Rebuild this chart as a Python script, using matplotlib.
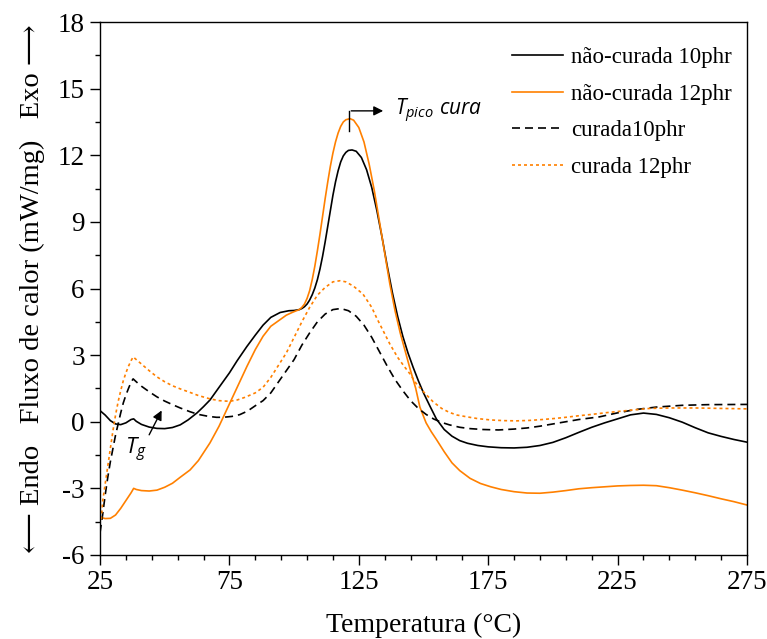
import numpy as np
import matplotlib.pyplot as plt
from matplotlib.ticker import FixedLocator, MultipleLocator

plt.rcParams['font.family'] = ['Liberation Serif', 'DejaVu Serif']
plt.rcParams['mathtext.fontset'] = 'custom'
plt.rcParams['mathtext.it'] = 'Open Sans:italic'
plt.rcParams['mathtext.rm'] = 'Open Sans'
plt.rcParams['axes.unicode_minus'] = False

ORANGE = '#ff8000'

# não-curada 10phr
x_nc10 = [25, 27, 29, 31, 33, 35, 37, 38, 39, 41, 44, 47, 50, 53, 56, 59, 62.5, 65, 67.5, 71,
          75, 78, 81.7, 85, 88, 91, 94.6, 98, 100, 102, 103, 104, 105, 106, 107, 108, 109, 110,
          111, 112, 113, 114, 115, 116, 117, 118, 119, 120, 121, 122.4, 124, 126, 128, 130, 132,
          134, 136, 138, 140, 142, 144, 146, 148, 150, 152.5, 155, 158, 161, 164, 167, 171, 175,
          180, 185, 190, 195, 200, 205, 210, 215, 220, 225, 230, 235, 240, 245, 250, 255, 260,
          265, 270, 275]
y_nc10 = [0.50, 0.30, 0.05, -0.10, -0.13, -0.05, 0.10, 0.13, 0.02, -0.12, -0.24, -0.30, -0.31,
          -0.26, -0.14, 0.08, 0.40, 0.68, 0.98, 1.55, 2.20, 2.75, 3.38, 3.90, 4.35, 4.70, 4.92,
          5.00, 5.01, 5.05, 5.10, 5.18, 5.30, 5.48, 5.72, 6.02, 6.40, 6.88, 7.45, 8.10, 8.80,
          9.50, 10.20, 10.80, 11.30, 11.70, 11.97, 12.13, 12.22, 12.24, 12.18, 11.90, 11.35,
          10.55, 9.50, 8.30, 7.00, 5.80, 4.75, 3.85, 3.10, 2.45, 1.85, 1.30, 0.70, 0.12, -0.35,
          -0.65, -0.85, -0.97, -1.07, -1.13, -1.17, -1.18, -1.15, -1.07, -0.93, -0.72, -0.48,
          -0.25, -0.05, 0.13, 0.31, 0.39, 0.33, 0.18, -0.02, -0.27, -0.50, -0.66, -0.80, -0.92]

# não-curada 12phr
x_nc12 = [25, 27, 29, 31, 33, 35, 37, 38, 39, 41, 44, 47, 50, 53, 56, 59.8, 63, 67.5, 71, 75.2,
          78, 81.8, 85, 88, 91, 94.6, 97, 99.6, 102, 103, 104, 105, 106, 107, 108, 109, 110, 111,
          112, 113, 114, 115, 116, 117, 118, 119, 120, 121.6, 123, 125, 127, 129, 131, 133, 135,
          137, 139, 141, 143, 145, 147, 148.6, 151, 153, 155, 158, 161, 164, 168, 172, 176, 180,
          185, 190, 195, 200, 205, 210, 215, 220, 225, 230, 235, 240, 245, 250, 255, 260, 265,
          270, 275]
y_nc12 = [-4.30, -4.36, -4.35, -4.20, -3.90, -3.55, -3.20, -3.00, -3.05, -3.10, -3.12, -3.08,
          -2.95, -2.77, -2.50, -2.17, -1.75, -0.95, -0.20, 0.85, 1.55, 2.50, 3.25, 3.85, 4.30,
          4.60, 4.80, 4.94, 5.05, 5.15, 5.30, 5.55, 5.90, 6.40, 7.00, 7.70, 8.45, 9.25, 10.05,
          10.80, 11.50, 12.10, 12.60, 13.00, 13.30, 13.50, 13.60, 13.65, 13.58, 13.25, 12.60,
          11.60, 10.40, 9.00, 7.60, 6.20, 5.00, 4.00, 3.15, 2.30, 1.50, 0.66, -0.05, -0.45,
          -0.80, -1.35, -1.85, -2.20, -2.55, -2.78, -2.93, -3.05, -3.15, -3.21, -3.22, -3.17,
          -3.10, -3.02, -2.97, -2.93, -2.89, -2.87, -2.86, -2.88, -2.97, -3.08, -3.20, -3.33,
          -3.47, -3.60, -3.75]

# curada 10phr
x_c10 = [25, 26, 27, 28, 29, 30, 31, 32, 33, 34, 35, 36, 37, 37.8, 39, 41, 44, 47, 50, 53, 56,
         59.8, 63, 67, 70, 72.6, 76, 79, 82, 85, 88, 91, 94, 97, 100, 103, 106, 109, 112, 115,
         118, 121, 124, 127, 130, 133, 136, 139, 142, 145, 148, 151, 154, 157, 160, 164, 168,
         173, 179, 185, 190, 195, 200, 205, 210, 218, 225, 232, 240, 250, 260, 275]
y_c10 = [-5.00, -4.20, -3.30, -2.50, -1.80, -1.20, -0.60, -0.10, 0.40, 0.85, 1.20, 1.50, 1.78,
         1.93, 1.80, 1.60, 1.35, 1.12, 0.93, 0.77, 0.62, 0.45, 0.33, 0.24, 0.20, 0.20, 0.24,
         0.32, 0.48, 0.72, 0.95, 1.30, 1.80, 2.30, 2.80, 3.45, 4.00, 4.50, 4.85, 5.05, 5.10,
         5.00, 4.75, 4.35, 3.80, 3.15, 2.50, 1.90, 1.40, 0.95, 0.60, 0.33, 0.12, -0.03, -0.14,
         -0.25, -0.31, -0.35, -0.37, -0.33, -0.28, -0.20, -0.10, 0.00, 0.10, 0.22, 0.40, 0.55,
         0.66, 0.74, 0.77, 0.78]

# curada 12phr
x_c12 = [25.5, 26, 27, 28, 29, 30, 31, 32, 33, 34, 35, 36, 37, 37.8, 39, 41, 44, 47, 50, 53, 56,
         59.8, 63, 67.5, 71, 75, 78, 81, 85, 88, 91, 94, 97, 100, 103, 106, 109, 112, 115, 117.7,
         120, 123, 126.6, 130, 132, 134.4, 137, 140, 142.5, 144.8, 147, 150, 153.7, 157, 160,
         163, 166.8, 171, 176, 181, 186, 191, 196, 201, 205, 210, 215, 220, 225, 230, 237.5,
         245, 255, 265, 275]
y_c12 = [-4.40, -3.60, -2.80, -2.00, -1.20, -0.40, 0.30, 0.90, 1.40, 1.85, 2.20, 2.50, 2.75,
         2.92, 2.80, 2.60, 2.30, 2.02, 1.80, 1.62, 1.48, 1.32, 1.18, 1.03, 0.95, 0.92, 0.98,
         1.10, 1.30, 1.55, 2.00, 2.55, 3.10, 3.80, 4.50, 5.15, 5.70, 6.05, 6.30, 6.35, 6.30,
         6.10, 5.75, 5.15, 4.65, 4.10, 3.50, 2.90, 2.50, 2.15, 1.75, 1.35, 0.90, 0.60, 0.42,
         0.30, 0.22, 0.14, 0.08, 0.05, 0.04, 0.06, 0.10, 0.15, 0.20, 0.27, 0.33, 0.40, 0.46,
         0.52, 0.60, 0.62, 0.62, 0.60, 0.58]

x_ticks = [25, 75, 125, 175, 225, 275]
y_ticks = [-6, -3, 0, 3, 6, 9, 12, 15, 18]

fig = plt.figure(figsize=(7.67, 6.39), dpi=100)
ax = fig.add_axes([0.1304, 0.1315, 0.8435, 0.834])

lw = 1.2
ax.plot(x_nc10, y_nc10, color='black', lw=lw, label='não-curada 10phr')
ax.plot(x_nc12, y_nc12, color=ORANGE, lw=lw, label='não-curada 12phr')
ax.plot(x_c10, y_c10, color='black', lw=lw, dashes=(4.8, 3.0), label='curada10phr')
ax.plot(x_c12, y_c12, color=ORANGE, lw=lw, dashes=(1.8, 1.8), label='curada 12phr')

ax.set_xlim(25, 275)
ax.set_ylim(-6, 18)
ax.set_xticks(x_ticks)
ax.set_yticks(y_ticks)
ax.xaxis.set_minor_locator(FixedLocator(np.arange(25, 276, 10)))
ax.yaxis.set_minor_locator(MultipleLocator(1.5))
ax.tick_params(which='major', direction='out', length=7, width=1, labelsize=19.5, pad=4)
ax.tick_params(which='minor', direction='out', length=3.5, width=1)
ax.tick_params(top=False, right=False, which='both')
for s in ax.spines.values():
    s.set_linewidth(1)

ax.set_xlabel('Temperatura (°C)', fontsize=20, labelpad=13)
ax.set_ylabel('\u27f5 Endo   Fluxo de calor (mW/mg)   Exo \u27f6', fontsize=20.5, labelpad=9)

leg = ax.legend(loc='upper right', bbox_to_anchor=(1.008, 0.992), frameon=False, fontsize=16.5,
                handlelength=2.2, handletextpad=0.35, labelspacing=0.68)

# T pico cura annotation
ax.plot([121.2, 121.2], [13.1, 14.0], color='black', lw=1)
ax.annotate('', xy=(135.5, 14.0), xytext=(121.0, 14.0),
            arrowprops=dict(arrowstyle='-|>', color='black', lw=1, mutation_scale=14))
ax.text(139, 14.0, r'$T_{pico}\ cura$', fontsize=15, va='center', ha='left')

# Tg annotation
ax.annotate('', xy=(49.3, 0.62), xytext=(43.5, -0.7),
            arrowprops=dict(arrowstyle='-|>', color='black', lw=1, mutation_scale=14))
ax.text(39, -1.25, r'$T_g$', fontsize=16, va='center', ha='center')

fig.savefig('out.png', dpi=100)
